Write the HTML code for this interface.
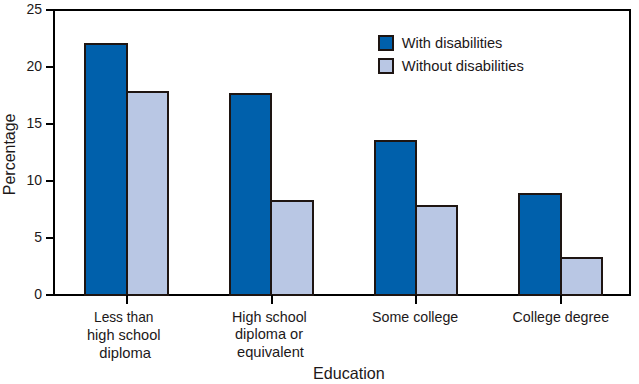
<!DOCTYPE html>
<html><head><meta charset="utf-8">
<style>
html,body{margin:0;padding:0;background:#fff;width:639px;height:384px;overflow:hidden}
svg{display:block}
text{font-family:"Liberation Sans",sans-serif;fill:#1c1819}
</style></head><body>
<svg width="639" height="384" viewBox="0 0 639 384">
<rect x="54" y="10" width="576" height="285" fill="none" stroke="#000" stroke-width="2"/>
<g stroke="#1e1512" stroke-width="2">
<rect x="85" y="44" width="42" height="251" fill="#0060ab"/>
<rect x="127" y="92" width="41" height="203" fill="#b9c7e4"/>
<rect x="230" y="94" width="41" height="201" fill="#0060ab"/>
<rect x="271" y="201" width="42" height="94" fill="#b9c7e4"/>
<rect x="375" y="141" width="41" height="154" fill="#0060ab"/>
<rect x="416" y="206" width="41" height="89" fill="#b9c7e4"/>
<rect x="519" y="194" width="42" height="101" fill="#0060ab"/>
<rect x="561" y="258" width="41" height="37" fill="#b9c7e4"/>
<rect x="379" y="36" width="14" height="14" fill="#0060ab"/>
<rect x="379" y="59" width="14" height="14" fill="#b9c7e4"/>
</g>
<g fill="none" stroke="#000" stroke-width="2">
<path d="M46 10H54M46 67H54M46 124H54M46 181H54M46 238H54M46 295H54"/>
<path d="M127 295V304M272 295V304M416 295V304M561 295V304"/>
</g>
<g font-size="14" text-anchor="end">
<text x="42" y="13.8">25</text>
<text x="42" y="70.8">20</text>
<text x="42" y="127.8">15</text>
<text x="42" y="184.8">10</text>
<text x="42" y="241.8">5</text>
<text x="42" y="298.8">0</text>
</g>
<text x="94.00" y="322" font-size="15" textLength="59.50" lengthAdjust="spacingAndGlyphs">Less than</text>
<text x="87.00" y="339.8" font-size="15" textLength="73.50" lengthAdjust="spacingAndGlyphs">high school</text>
<text x="99.20" y="357.5" font-size="15" textLength="51.70" lengthAdjust="spacingAndGlyphs">diploma</text>
<text x="232.00" y="321.7" font-size="15" textLength="74.80" lengthAdjust="spacingAndGlyphs">High school</text>
<text x="235.00" y="338.9" font-size="15" textLength="68.00" lengthAdjust="spacingAndGlyphs">diploma or</text>
<text x="237.00" y="356.9" font-size="15" textLength="66.90" lengthAdjust="spacingAndGlyphs">equivalent</text>
<text x="372.00" y="321.7" font-size="15" textLength="86.30" lengthAdjust="spacingAndGlyphs">Some college</text>
<text x="512.60" y="321.7" font-size="15" textLength="96.50" lengthAdjust="spacingAndGlyphs">College degree</text>
<text x="401.80" y="47.5" font-size="15" textLength="100.60" lengthAdjust="spacingAndGlyphs">With disabilities</text>
<text x="401.80" y="70.5" font-size="15" textLength="122.00" lengthAdjust="spacingAndGlyphs">Without disabilities</text>
<text x="313.00" y="378.7" font-size="16.5" textLength="71.75" lengthAdjust="spacingAndGlyphs">Education</text>
<text font-size="16.5" transform="translate(15.2,195.20) rotate(-90)" textLength="81.70" lengthAdjust="spacingAndGlyphs">Percentage</text>
</svg>
</body></html>
